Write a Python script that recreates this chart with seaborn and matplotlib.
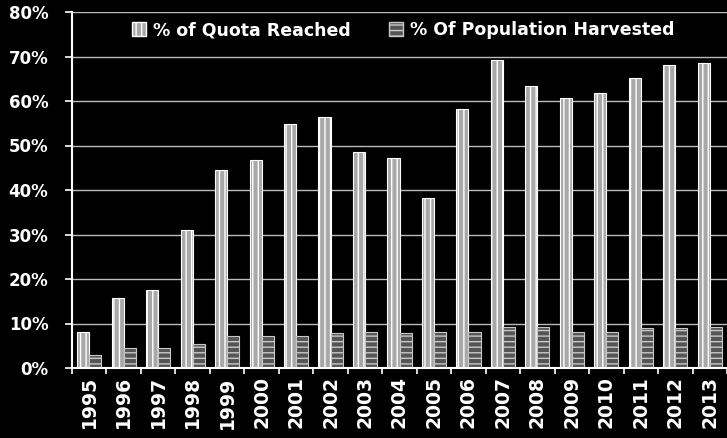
import matplotlib
matplotlib.use("Agg")
import matplotlib.pyplot as plt
import matplotlib.patches as mpatches
import seaborn as sns
import pandas as pd
from matplotlib.ticker import PercentFormatter, FixedLocator

years = ["1995", "1996", "1997", "1998", "1999", "2000", "2001", "2002", "2003", "2004",
         "2005", "2006", "2007", "2008", "2009", "2010", "2011", "2012", "2013"]
quota_reached = [8.1, 15.7, 17.6, 30.9, 44.4, 46.8, 54.8, 56.3, 48.6, 47.3,
                 38.3, 58.1, 69.2, 63.3, 60.7, 61.9, 65.1, 68.2, 68.5]
population_harvested = [2.9, 4.5, 4.6, 5.4, 7.2, 7.2, 7.2, 7.9, 8.1, 7.9,
                        8.1, 8.1, 9.2, 9.2, 8.1, 8.1, 9.0, 9.0, 9.2]
series_names = ["% of Quota Reached", "% Of Population Harvested"]

df = pd.DataFrame({
    "Year": years * 2,
    "Value": [v / 100 for v in quota_reached] + [v / 100 for v in population_harvested],
    "Series": [series_names[0]] * len(years) + [series_names[1]] * len(years),
})

sns.set_theme(style="dark")
plt.rcParams["font.family"] = ["DejaVu Sans"]
plt.rcParams["hatch.linewidth"] = 1.0

fig = plt.figure(figsize=(7.27, 4.38), dpi=100, facecolor="black")
ax = fig.add_axes([72 / 727, 70 / 438, 655 / 727, 356 / 438])
ax.set_facecolor("black")

face = ["#a8a8a8", "#555555"]
edge = ["white", "#c8c8c8"]
hatches = ["|||", "---"]

sns.barplot(data=df, x="Year", y="Value", hue="Series", ax=ax,
            palette=face, width=0.7, gap=0, linewidth=0.8, legend=False)

n = len(years)
for i, p in enumerate(ax.patches[:2 * n]):
    k = i // n
    p.set_edgecolor(edge[k])
    p.set_hatch(hatches[k])

ax.set_ylim(0, 0.8)
ax.set_xlim(-0.5, n - 0.5)
ax.yaxis.set_major_locator(FixedLocator([i / 10 for i in range(9)]))
ax.yaxis.set_major_formatter(PercentFormatter(1.0, decimals=0))
ax.grid(axis="y", color="#bbbbbb", linewidth=1.0)
ax.grid(axis="x", visible=False)
ax.set_axisbelow(True)

for s in ["top", "right"]:
    ax.spines[s].set_visible(False)
for s in ["left", "bottom"]:
    ax.spines[s].set_visible(True)
    ax.spines[s].set_color("white")
    ax.spines[s].set_linewidth(1.5)

ax.set_xlabel("")
ax.set_ylabel("")
ax.tick_params(axis="y", colors="white", labelsize=12, length=5, width=1.2,
               direction="out", pad=12, left=True)
ax.set_xticks(range(n))
ax.set_xticklabels(years, rotation=90, color="white", fontsize=13.5, fontweight="bold")
ax.tick_params(axis="x", which="major", length=0, pad=6)
ax.set_xticks([i + 0.5 for i in range(-1, n)], minor=True)
ax.tick_params(axis="x", which="minor", length=4.5, width=1.2, color="white",
               direction="out", bottom=True)
for t in ax.get_yticklabels():
    t.set_fontweight("bold")

handles = [mpatches.Patch(facecolor=face[k], edgecolor=edge[k], hatch=hatches[k],
                          label=series_names[k]) for k in range(2)]
leg = ax.legend(handles=handles, loc="center", bbox_to_anchor=(0.506, 0.949), ncol=2,
                frameon=False, prop={"size": 12.5, "weight": "bold"},
                handlelength=0.8, handleheight=0.8, columnspacing=2.2,
                handletextpad=0.4)
for t in leg.get_texts():
    t.set_color("white")

fig.savefig("out.png", dpi=100, facecolor="black")
